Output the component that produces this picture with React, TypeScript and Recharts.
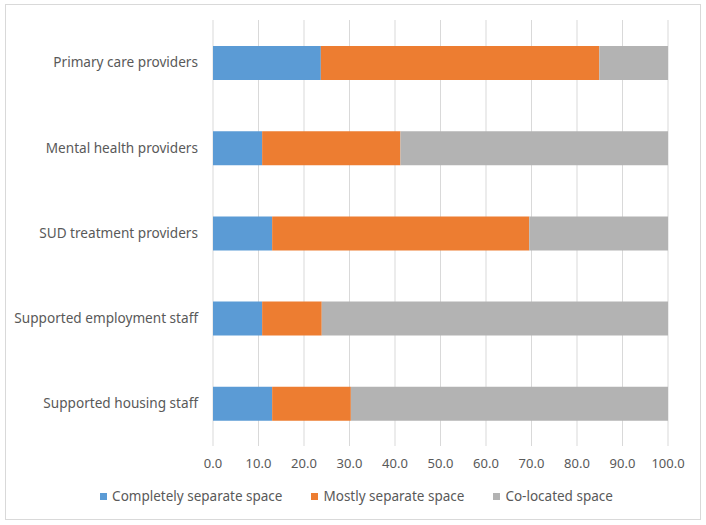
import React from 'react';
import { BarChart, Bar, XAxis, YAxis, CartesianGrid, Legend } from 'recharts';

const categories = [
  'Primary care providers',
  'Mental health providers',
  'SUD treatment providers',
  'Supported employment staff',
  'Supported housing staff',
];
const completelySeparate = [23.7, 10.8, 13.0, 10.8, 13.0];
const mostlySeparate = [61.2, 30.4, 56.5, 13.1, 17.3];
const coLocated = [15.1, 58.8, 30.5, 76.1, 69.7];
const xTicks = [0, 10, 20, 30, 40, 50, 60, 70, 80, 90, 100];

const seriesNames = ['Completely separate space', 'Mostly separate space', 'Co-located space'];
const colors = ['#5B9BD5', '#ED7D31', '#B3B3B3'];

const data = categories.map((name, i) => ({
  name,
  a: completelySeparate[i],
  b: mostlySeparate[i],
  c: coLocated[i],
}));

const FONT = '"Noto Sans", sans-serif';
const TEXT = '#595959';

const LegendContent = () => (
  <div
    style={{
      display: 'flex',
      justifyContent: 'center',
      alignItems: 'center',
      height: 20,
      fontFamily: FONT,
      fontSize: 13.5,
      color: TEXT,
      gap: 29,
      paddingLeft: 44,
    }}
  >
    {seriesNames.map((n, i) => (
      <div key={n} style={{ display: 'flex', alignItems: 'center', gap: 5 }}>
        <span style={{ display: 'inline-block', width: 7, height: 7, background: colors[i] }} />
        <span>{n}</span>
      </div>
    ))}
  </div>
);

export default function App() {
  return (
    <div style={{ position: 'absolute', left: 0, top: 0, width: 706, height: 525, background: '#fff' }}>
      <div
        style={{
          position: 'absolute',
          left: 5,
          top: 4,
          width: 694,
          height: 514,
          border: '1px solid #D9D9D9',
        }}
      />
      <div style={{ position: 'absolute', left: 0, top: 0 }}>
        <BarChart
          width={706}
          height={525}
          data={data}
          layout="vertical"
          margin={{ top: 20, right: 38, bottom: 19, left: 1 }}
          barSize={34}
        >
          <CartesianGrid horizontal={false} vertical={true} stroke="#D9D9D9" />
          <XAxis
            type="number"
            domain={[0, 100]}
            ticks={xTicks}
            tickFormatter={(v: number) => v.toFixed(1)}
            axisLine={false}
            tickLine={false}
            tickSize={0}
            tickMargin={13}
            height={40}
            interval={0}
            tick={{ fill: TEXT, fontSize: 13, fontFamily: FONT }}
          />
          <YAxis
            type="category"
            dataKey="name"
            width={212}
            axisLine={false}
            tickLine={false}
            tickSize={0}
            tickMargin={15}
            tick={{ fill: TEXT, fontSize: 13.6, fontFamily: FONT }}
          />
          <Legend verticalAlign="bottom" align="center" content={<LegendContent />} />
          <Bar dataKey="a" name={seriesNames[0]} stackId="s" fill={colors[0]} isAnimationActive={false} />
          <Bar dataKey="b" name={seriesNames[1]} stackId="s" fill={colors[1]} isAnimationActive={false} />
          <Bar dataKey="c" name={seriesNames[2]} stackId="s" fill={colors[2]} isAnimationActive={false} />
        </BarChart>
      </div>
    </div>
  );
}
